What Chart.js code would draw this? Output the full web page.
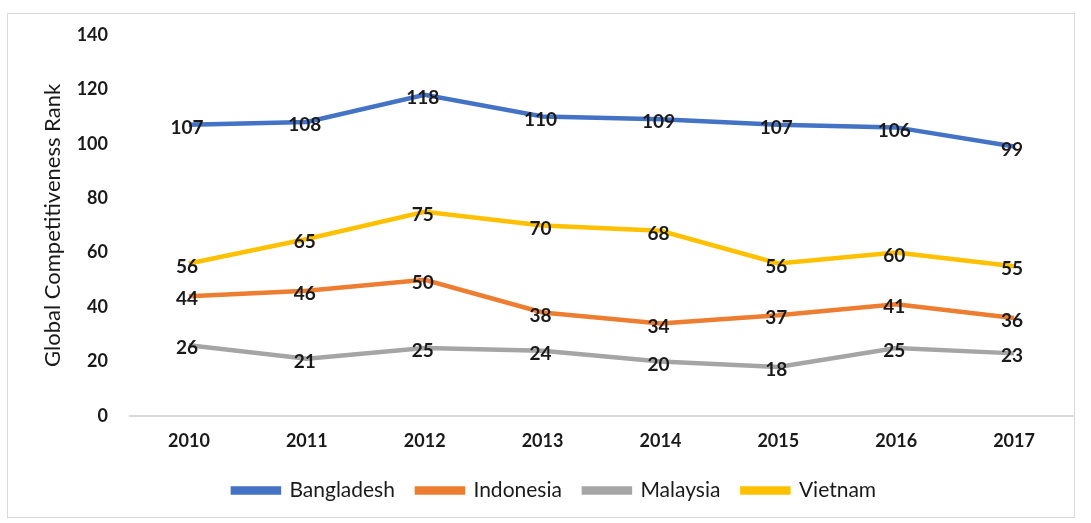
<!DOCTYPE html>
<html>
<head>
<meta charset="utf-8">
<script src="https://cdn.jsdelivr.net/npm/chart.js@4.4.1/dist/chart.umd.min.js"></script>
<style>
    html, body { margin: 0; padding: 0; background: #fff; }
    body { width: 1091px; height: 523px; position: relative; overflow: hidden; }
    .card {
        position: absolute;
        left: 7px;
        top: 13px;
        width: 1068px;
        height: 505px;
        border: 1px solid #d9d9d9;
        box-sizing: border-box;
    }
    canvas { display: block; position: relative; top: -12px; }
</style>
</head>
<body>
<div class="card">
    <canvas id="chart" width="1066" height="509"></canvas>
</div>
<script>
const years = ['2010', '2011', '2012', '2013', '2014', '2015', '2016', '2017'];

const bangladesh = [107, 108, 118, 110, 109, 107, 106, 99];
const indonesia = [44, 46, 50, 38, 34, 37, 41, 36];
const malaysia = [26, 21, 25, 24, 20, 18, 25, 23];
const vietnam = [56, 65, 75, 70, 68, 56, 60, 55];

const yTicks = [0, 20, 40, 60, 80, 100, 120, 140];

const FONT = 'Lato, "Open Sans", sans-serif';

/**
 * Writes each value on top of its point, the way the spreadsheet did.
 */
const pointLabels = {
    id: 'pointLabels',
    afterDatasetsDraw(chart) {
        const ctx = chart.ctx;
        ctx.save();
        ctx.font = 'bold 19px ' + FONT;
        ctx.fillStyle = '#1a1a1a';
        ctx.textAlign = 'center';
        ctx.textBaseline = 'middle';
        chart.data.datasets.forEach((dataset, i) => {
            const meta = chart.getDatasetMeta(i);
            meta.data.forEach((point, j) => {
                ctx.fillText(String(dataset.data[j]), point.x - 2, point.y + 3);
            });
        });
        ctx.restore();
    }
};

const makeSeries = (label, data, color) => ({
    label,
    data,
    borderColor: color,
    backgroundColor: color,
    borderWidth: 4.5,
    pointRadius: 0,
    tension: 0
});

new Chart(document.getElementById('chart'), {
    type: 'line',
    data: {
        labels: years,
        datasets: [
            makeSeries('Bangladesh', bangladesh, '#4472c4'),
            makeSeries('Indonesia', indonesia, '#ed7d31'),
            makeSeries('Malaysia', malaysia, '#a5a5a5'),
            makeSeries('Vietnam', vietnam, '#ffc000')
        ]
    },
    options: {
        responsive: false,
        animation: false,
        layout: {
            padding: { top: 1, right: 1, left: 28, bottom: 0 }
        },
        plugins: {
            tooltip: { enabled: false },
            legend: {
                position: 'bottom',
                labels: {
                    boxWidth: 46,
                    boxHeight: 4,
                    padding: 22,
                    color: '#1a1a1a',
                    font: { family: FONT, size: 21 }
                }
            }
        },
        scales: {
            x: {
                offset: true,
                grid: { display: false, drawTicks: false },
                border: { display: true, color: '#d9d9d9', width: 2 },
                ticks: {
                    padding: 14,
                    color: '#1a1a1a',
                    font: { family: FONT, size: 18, weight: 'bold' }
                },
                afterFit: (axis) => {
                    axis.height = 42;
                }
            },
            y: {
                min: 0,
                max: 140,
                afterBuildTicks: (axis) => {
                    axis.ticks = yTicks.map((value) => ({ value }));
                },
                afterFit: (axis) => {
                    axis.width = 94;
                },
                grid: { display: false, drawTicks: false },
                border: { display: false },
                title: {
                    display: true,
                    text: 'Global Competitiveness Rank',
                    color: '#1a1a1a',
                    font: { family: FONT, size: 22 },
                    padding: { top: 4, bottom: 0 }
                },
                ticks: {
                    padding: 22,
                    color: '#1a1a1a',
                    font: { family: FONT, size: 18, weight: 'bold' }
                }
            }
        }
    },
    plugins: [pointLabels]
});
</script>
</body>
</html>
